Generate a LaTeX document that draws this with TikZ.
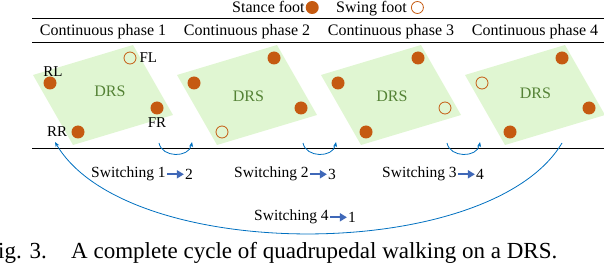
\documentclass[tikz,border=0pt]{standalone}
\usepackage{fontspec}
\setmainfont{Liberation Serif}
\usepackage{xcolor}
\usetikzlibrary{arrows.meta, positioning}
\definecolor{footorange}{HTML}{C55A11}
\definecolor{drsfill}{HTML}{E0F6D2}
\definecolor{drstext}{HTML}{548235}
\definecolor{arcblue}{HTML}{0070C0}
\definecolor{arrowblue}{HTML}{3F68B8}
\tikzset{
    gaitdiagram/.style={x=1pt, y=-1pt, font=\fontsize{16}{18}\selectfont},
    panel/.style={fill=drsfill},
    stance/.style={circle, fill=footorange, minimum size=13pt, inner sep=0pt},
    swing/.style={circle, draw=footorange, line width=0.8pt, minimum size=12pt, inner sep=0pt},
    footlabel/.style={font=\fontsize{15}{17}\selectfont, inner sep=1pt},
    drslabel/.style={text=drstext, inner sep=0pt},
    rule/.style={line width=0.8pt},
    % blue curved arrows between the phases
    switcharc/.style={-{Stealth[length=5pt, width=4pt]}, draw=arcblue, line width=0.8pt},
    swlabel/.style={font=\fontsize{15.5}{17}\selectfont, inner sep=1pt},
    steparrow/.style={-{Triangle[length=7pt, width=8pt]}, draw=arrowblue, fill=arrowblue, line width=2pt},
    caption/.style={font=\fontsize{23}{26}\selectfont, inner sep=0pt},
}
\begin{document}
\begin{tikzpicture}[gaitdiagram]
    \useasboundingbox (0,0) rectangle (604,264);

    % legend
    \node[anchor=base west, inner sep=0pt] (stancetxt) at (232,13) {Stance foot};
    \node[stance, anchor=west] (stancekey) at (305.5,7.5) {};
    \node[anchor=base west, inner sep=0pt] (swingtxt) at (336,13) {Swing foot};
    \node[swing, anchor=west] (swingkey) at (411,7.5) {};

    % table rules and headers
    \draw[rule] (32,18) -- (604,18);
    \draw[rule] (32,42) -- (604,42);
    \draw[rule] (32,148) -- (604,148);
    \node[anchor=base] (phase1) at (103,36) {Continuous phase 1};
    \node[anchor=base] (phase2) at (247,36) {Continuous phase 2};
    \node[anchor=base] (phase3) at (391,36) {Continuous phase 3};
    \node[anchor=base] (phase4) at (535,36) {Continuous phase 4};

    % phase 1: FL swings
    \begin{scope}[shift={(103,95)}]
        \fill[panel] (-70,-20) -- (30,-50) -- (70,20) -- (-30,50) -- cycle;
        \node[drslabel] (drs1) at (7,-4) {DRS};
        \node[stance] (rl1) at (-53,-12) {};
        \node[swing]  (fl1) at (27,-37) {};
        \node[stance] (fr1) at (54,13) {};
        \node[stance] (rr1) at (-25,37) {};
    \end{scope}
    \node[footlabel, above=-1pt of rl1, xshift=3pt] {RL};
    \node[footlabel, right=2pt of fl1]  {FL};
    \node[footlabel, below=2pt of fr1]  {FR};
    \node[footlabel, left=3pt of rr1]   {RR};

    % phase 2: RR swings
    \begin{scope}[shift={(247,95)}]
        \fill[panel] (-70,-20) -- (30,-50) -- (70,20) -- (-30,50) -- cycle;
        \node[drslabel] (drs2) at (1.5,1) {DRS};
        \node[stance] (rl2) at (-53,-12) {};
        \node[stance] (fl2) at (27,-37) {};
        \node[stance] (fr2) at (54,13) {};
        \node[swing]  (rr2) at (-25,37) {};
    \end{scope}

    % phase 3: FR swings
    \begin{scope}[shift={(391,95)}]
        \fill[panel] (-70,-20) -- (30,-50) -- (70,20) -- (-30,50) -- cycle;
        \node[drslabel] (drs3) at (1,1) {DRS};
        \node[stance] (rl3) at (-53,-12) {};
        \node[stance] (fl3) at (27,-37) {};
        \node[swing]  (fr3) at (54,13) {};
        \node[stance] (rr3) at (-25,37) {};
    \end{scope}

    % phase 4: RL swings
    \begin{scope}[shift={(535,95)}]
        \fill[panel] (-70,-20) -- (30,-50) -- (70,20) -- (-30,50) -- cycle;
        \node[drslabel] (drs4) at (0.5,-2) {DRS};
        \node[swing]  (rl4) at (-53,-12) {};
        \node[stance] (fl4) at (27,-37) {};
        \node[stance] (fr4) at (54,13) {};
        \node[stance] (rr4) at (-25,37) {};
    \end{scope}

    % switching arcs
    \coordinate (arc12s) at (159,143);
    \coordinate (arc12e) at (192,142);
    \coordinate (arc23s) at (303,143);
    \coordinate (arc23e) at (336,142);
    \coordinate (arc34s) at (447,143);
    \coordinate (arc34e) at (480,142);
    \coordinate (arc41s) at (562,143);
    \coordinate (arc41e) at (55,142);
    \draw[switcharc] (arc12s) .. controls (162,158) and (189,158) .. (arc12e);
    \draw[switcharc] (arc23s) .. controls (306,158) and (333,158) .. (arc23e);
    \draw[switcharc] (arc34s) .. controls (450,158) and (477,158) .. (arc34e);
    \draw[switcharc] (arc41s) .. controls (490,264) and (127,264) .. (arc41e);

    % switching labels
    \node[swlabel, anchor=base west] (sw12) at (90,178) {Switching 1};
    \node[swlabel, right=17pt of sw12] (to12) {2};
    \draw[steparrow] (sw12) -- (to12);
    \node[swlabel, anchor=base west] (sw23) at (233,178) {Switching 2};
    \node[swlabel, right=17pt of sw23] (to23) {3};
    \draw[steparrow] (sw23) -- (to23);
    \node[swlabel, anchor=base west] (sw34) at (381,178) {Switching 3};
    \node[swlabel, right=17pt of sw34] (to34) {4};
    \draw[steparrow] (sw34) -- (to34);
    \node[swlabel, anchor=base west] (sw41) at (253,221) {Switching 4};
    \node[swlabel, right=17pt of sw41] (to41) {1};
    \draw[steparrow] (sw41) -- (to41);

    % caption
    \node[caption, anchor=base east] (fignum) at (47,258) {Fig. 3.};
    \node[caption, anchor=base west] (figtext) at (71,258) {A complete cycle of quadrupedal walking on a DRS.};
\end{tikzpicture}
\end{document}
